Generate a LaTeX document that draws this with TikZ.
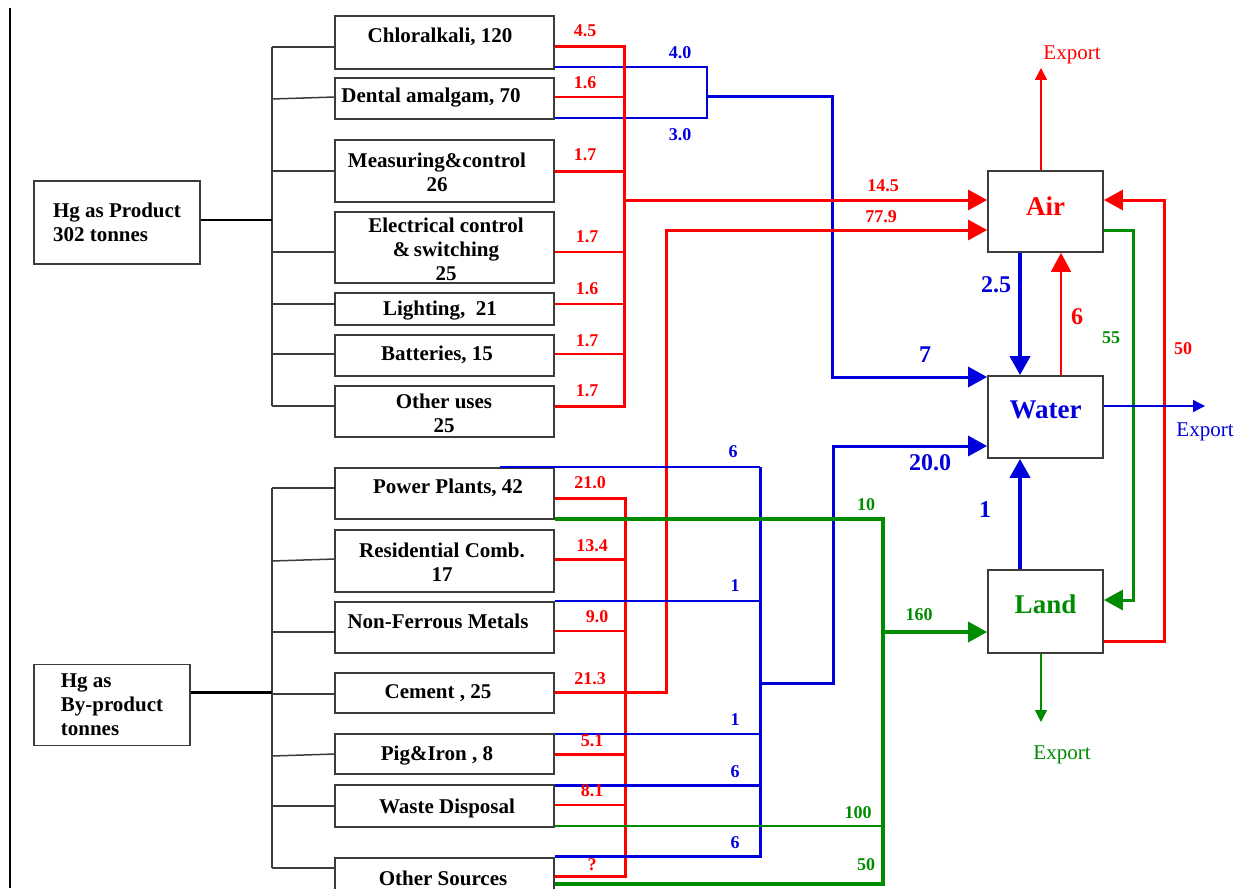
\documentclass[tikz,border=0pt]{standalone}
\usepackage{fontspec}
\setmainfont{Liberation Serif}
\usetikzlibrary{arrows.meta}
\definecolor{rd}{RGB}{255,0,0}
\definecolor{bl}{RGB}{0,0,220}
\definecolor{gr}{RGB}{0,140,0}
\definecolor{bd}{RGB}{60,60,60}
\begin{document}
\begin{tikzpicture}[x=1pt,y=-1pt,
 box/.style={draw=bd,line width=1.8pt,inner sep=0pt,minimum width=219pt},
 cbox/.style={draw=bd,line width=1.8pt,inner sep=0pt,minimum width=115pt},
 btxt/.style={font=\fontsize{21}{24}\selectfont\bfseries,align=center,inner sep=0pt},
 tree/.style={draw=bd,line width=1.5pt},
 num/.style={font=\fontsize{18}{20}\selectfont\bfseries,inner sep=0pt},
 big/.style={font=\fontsize{24}{28}\selectfont\bfseries,inner sep=0pt},
 comp/.style={font=\fontsize{27}{30}\selectfont\bfseries,inner sep=0pt},
 exptxt/.style={font=\fontsize{21}{24}\selectfont,inner sep=0pt},
 tip/.style={-{Triangle[length=19pt,width=20pt]}},
 stip/.style={-{Triangle[length=12pt,width=12pt]}},
 rb/.style={draw=rd,line width=3pt},
 rt/.style={draw=rd,line width=2pt},
 bw/.style={draw=bl,line width=3pt},
 bt/.style={draw=bl,line width=2.2pt},
 gw/.style={draw=gr,line width=3.5pt},
 gt/.style={draw=gr,line width=2pt},
]
\useasboundingbox (0,0) rectangle (1241,888);
\fill[white] (0,0) rectangle (1241,888);

% page border
\coordinate (pbt) at (10,8);
\coordinate (pbb) at (10,888);
\draw[black,line width=1.2pt] (pbt) -- (pbb);

% ---------- source boxes ----------
\node[draw=bd,line width=1.8pt,minimum width=166pt,minimum height=83pt,inner sep=0pt,
      font=\fontsize{21}{24}\selectfont\bfseries,align=left] (hgp) at (117,222.5) {Hg as Product\\302 tonnes};
\node[draw=bd,line width=1.8pt,minimum width=156pt,minimum height=81pt,inner sep=0pt,
      font=\fontsize{21}{24}\selectfont\bfseries,align=left] (hgb) at (112,705) {Hg as\\By-product\\tonnes};

\node[box,minimum height=53pt] (chl) at (444.5,42.5) {};
\node[box,minimum height=41pt] (den) at (444.5,98.5) {};
\node[box,minimum height=62pt] (mea) at (444.5,171) {};
\node[box,minimum height=71pt] (ele) at (444.5,247.5) {};
\node[box,minimum height=32pt] (lig) at (444.5,309) {};
\node[box,minimum height=41pt] (bat) at (444.5,355.5) {};
\node[box,minimum height=51pt] (oth) at (444.5,411.5) {};
\node[box,minimum height=51pt] (pow) at (444.5,493.5) {};
\node[box,minimum height=62pt] (res) at (444.5,561) {};
\node[box,minimum height=51pt] (nfm) at (444.5,627.5) {};
\node[box,minimum height=40pt] (cem) at (444.5,693) {};
\node[box,minimum height=40pt] (pig) at (444.5,754) {};
\node[box,minimum height=42pt] (was) at (444.5,806) {};
\node[box,minimum height=52pt] (ots) at (444.5,884) {};

\node[btxt] (chlT) at (440,37) {Chloralkali, 120};
\node[btxt] (denT) at (431,98) {Dental amalgam, 70};
\node[btxt] (meaT) at (437,172) {Measuring\&control\\26};
\node[btxt] (eleT) at (446,249) {Electrical control\\\&\,switching\\25};
\node[btxt] (ligT) at (440,311) {Lighting,\ \ 21};
\node[btxt] (batT) at (437,355) {Batteries, 15};
\node[btxt] (othT) at (444,413) {Other uses\\25};
\node[btxt] (powT) at (448,488) {Power Plants, 42};
\node[btxt] (resT) at (442,562) {Residential Comb.\\17};
\node[btxt] (nfmT) at (438,621) {Non-Ferrous Metals};
\node[btxt] (cemT) at (438,693) {Cement , 25};
\node[btxt] (pigT) at (437,756) {Pig\&Iron , 8};
\node[btxt] (wasT) at (447,808) {Waste Disposal};
\node[btxt] (otsT) at (443,878) {Other Sources};

% ---------- compartments ----------
\node[cbox,minimum height=81pt] (air) at (1045.5,211.5) {};
\node[comp,text=rd] (airT) at (1045.5,206) {Air};
\node[cbox,minimum height=82pt] (wat) at (1045.5,417) {};
\node[comp,text=bl] (watT) at (1045.5,410) {Water};
\node[cbox,minimum height=83pt] (land) at (1045.5,611.5) {};
\node[comp,text=gr] (landT) at (1045.5,604) {Land};

% ---------- trees ----------
\coordinate (ta) at (272,47);
\coordinate (tb) at (272,406);
\coordinate (tc) at (272,220);
\draw[tree] (ta) -- (tb);
\draw[draw=black,line width=2.5pt] (hgp.east |- tc) -- (tc);
\coordinate (p1) at (272,47);
\coordinate (p2) at (272,99);
\coordinate (p2b) at (335,97);
\coordinate (p3) at (272,171);
\coordinate (p4) at (272,252);
\coordinate (p5) at (272,304);
\coordinate (p6) at (272,354);
\coordinate (p7) at (272,406);
\draw[tree] (p1) -- (chl.west |- p1);
\draw[tree] (p2) -- (p2b);
\draw[tree] (p3) -- (mea.west |- p3);
\draw[tree] (p4) -- (ele.west |- p4);
\draw[tree] (p5) -- (lig.west |- p5);
\draw[tree] (p6) -- (bat.west |- p6);
\draw[tree] (p7) -- (oth.west |- p7);

\coordinate (sa) at (272,488);
\coordinate (sb) at (272,868);
\coordinate (sc) at (272,692);
\draw[tree] (sa) -- (sb);
\draw[draw=black,line width=3pt] (hgb.east |- sc) -- (sc);
\coordinate (s2) at (272,561);
\coordinate (s2b) at (335,559);
\coordinate (s3) at (272,632);
\coordinate (s4) at (272,694);
\coordinate (s5) at (272,756);
\coordinate (s5b) at (335,754);
\coordinate (s6) at (272,806);
\coordinate (s7) at (272,868);
\draw[tree] (sa) -- (pow.west |- sa);
\draw[tree] (s2) -- (s2b);
\draw[tree] (s3) -- (nfm.west |- s3);
\draw[tree] (s4) -- (cem.west |- s4);
\draw[tree] (s5) -- (s5b);
\draw[tree] (s6) -- (was.west |- s6);
\draw[tree] (s7) -- (ots.west |- s7);

% ---------- blue product ----------
\coordinate (b1) at (707,67);
\coordinate (b2) at (707,118);
\coordinate (b3) at (707,97);
\coordinate (b4) at (832,97);
\coordinate (b5) at (832,377);
\draw[bt] (chl.east |- b1) -- (b1) -- (b2) -- (den.east |- b2);
\draw[bw,tip] (b3) -- (b4) -- (b5) -- (wat.west |- b5);

% ---------- red product ----------
\coordinate (r1) at (624,47);
\coordinate (r2) at (624,97);
\coordinate (r3) at (624,171);
\coordinate (r4) at (624,252);
\coordinate (r5) at (624,304);
\coordinate (r6) at (624,354);
\coordinate (r7) at (624,406);
\coordinate (r8) at (624,200);
\draw[rb] (chl.east |- r1) -- (r1) -- (r7) -- (oth.east |- r7);
\draw[rt] (den.east |- r2) -- (r2);
\draw[rb] (mea.east |- r3) -- (r3);
\draw[rt] (ele.east |- r4) -- (r4);
\draw[rt] (lig.east |- r5) -- (r5);
\draw[rt] (bat.east |- r6) -- (r6);
\draw[rb,tip] (r8) -- (air.west |- r8);

% ---------- red by-product ----------
\coordinate (q1) at (625,498);
\coordinate (q2) at (625,559);
\coordinate (q3) at (625,631);
\coordinate (q5) at (625,754);
\coordinate (q6) at (625,805);
\coordinate (q7) at (625,876);
\draw[rb] (pow.east |- q1) -- (q1) -- (q7) -- (ots.east |- q7);
\draw[rb] (res.east |- q2) -- (q2);
\draw[rt] (nfm.east |- q3) -- (q3);
\draw[rb] (pig.east |- q5) -- (q5);
\draw[rt] (was.east |- q6) -- (q6);
\coordinate (c1) at (666,692);
\coordinate (c2) at (666,230);
\draw[rb,tip] (cem.east |- c1) -- (c1) -- (c2) -- (air.west |- c2);

% ---------- blue by-product ----------
\coordinate (v0) at (500,467);
\coordinate (v1) at (760,467);
\coordinate (v2) at (760,601);
\coordinate (v3) at (760,734);
\coordinate (v4) at (760,785);
\coordinate (v5) at (760,856);
\coordinate (v6) at (760,683);
\coordinate (v7) at (833,683);
\coordinate (v8) at (833,446);
\draw[bt] (v0) -- (v1);
\draw[bw] (v1) -- (v5) -- (ots.east |- v5);
\draw[bt] (nfm.east |- v2) -- (v2);
\draw[bt] (pig.east |- v3) -- (v3);
\draw[bw] (was.east |- v4) -- (v4);
\draw[bw,tip] (v6) -- (v7) -- (v8) -- (wat.west |- v8);

% ---------- green by-product ----------
\coordinate (g1) at (883,519);
\coordinate (g2) at (883,884);
\coordinate (g3) at (883,826);
\coordinate (g4) at (883,632);
\draw[gw] (pow.east |- g1) -- (g1) -- (g2) -- (ots.east |- g2);
\draw[gt] (was.east |- g3) -- (g3);
\draw[gw,tip] (g4) -- (land.west |- g4);

% ---------- compartment exchanges ----------
\coordinate (xa) at (1020,300);
\coordinate (xb) at (1061,300);
\draw[draw=bl,line width=4pt,tip] (air.south -| xa) -- (wat.north -| xa);
\draw[rt,tip] (wat.north -| xb) -- (air.south -| xb);
\draw[draw=bl,line width=4pt,tip] (land.north -| xa) -- (wat.south -| xa);
\coordinate (e1) at (1133,230);
\coordinate (e2) at (1133,600);
\draw[draw=gr,line width=3pt,tip] (air.east |- e1) -- (e1) -- (e2) -- (land.east |- e2);
\coordinate (f1) at (1164,641);
\coordinate (f2) at (1164,200);
\draw[rb,tip] (land.east |- f1) -- (f1) -- (f2) -- (air.east |- f2);

% exports
\coordinate (ea) at (1041,68);
\draw[draw=rd,line width=1.3pt,stip] (air.north -| ea) -- (ea);
\node[exptxt,text=rd] (exA) at (1072,55) {Export};
\coordinate (ew) at (1205,406);
\draw[draw=bl,line width=1.3pt,stip] (wat.east |- ew) -- (ew);
\node[exptxt,text=bl] (exW) at (1205,432) {Export};
\coordinate (el) at (1041,722);
\draw[draw=gr,line width=1.3pt,stip] (land.south -| el) -- (el);
\node[exptxt,text=gr] (exL) at (1062,755) {Export};

% ---------- labels ----------
\node[num,text=rd] (n1) at (585,31) {4.5};
\node[num,text=rd] (n2) at (585,83) {1.6};
\node[num,text=rd] (n3) at (585,155) {1.7};
\node[num,text=rd] (n4) at (587,237) {1.7};
\node[num,text=rd] (n5) at (587,289) {1.6};
\node[num,text=rd] (n6) at (587,341) {1.7};
\node[num,text=rd] (n7) at (587,391) {1.7};
\node[num,text=rd] (n8) at (883,186) {14.5};
\node[num,text=rd] (n9) at (881,217) {77.9};
\node[num,text=bl] (n10) at (680,53) {4.0};
\node[num,text=bl] (n11) at (680,135) {3.0};
\node[big,text=bl] (n12) at (925,355) {7};
\node[big,text=bl] (n13) at (930,463) {20.0};
\node[big,text=bl] (n14) at (996,285) {2.5};
\node[big,text=rd] (n15) at (1077,317) {6};
\node[big,text=bl] (n16) at (985,510) {1};
\node[num,text=gr] (n17) at (1111,338) {55};
\node[num,text=rd] (n18) at (1183,349) {50};
\node[num,text=bl] (n19) at (733,452) {6};
\node[num,text=bl] (n20) at (735,586) {1};
\node[num,text=bl] (n21) at (735,720) {1};
\node[num,text=bl] (n22) at (735,772) {6};
\node[num,text=bl] (n23) at (735,843) {6};
\node[num,text=rd] (n24) at (590,483) {21.0};
\node[num,text=rd] (n25) at (592,546) {13.4};
\node[num,text=rd] (n26) at (597,617) {9.0};
\node[num,text=rd] (n27) at (590,679) {21.3};
\node[num,text=rd] (n28) at (592,741) {5.1};
\node[num,text=rd] (n29) at (592,791) {8.1};
\node[num,text=rd] (n30) at (592,865) {?};
\node[num,text=gr] (n31) at (866,505) {10};
\node[num,text=gr] (n32) at (858,813) {100};
\node[num,text=gr] (n33) at (866,865) {50};
\node[num,text=gr] (n34) at (919,615) {160};
\end{tikzpicture}
\end{document}
